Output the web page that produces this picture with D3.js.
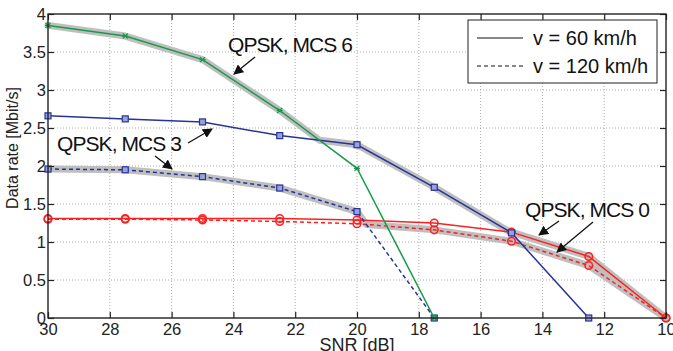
<!DOCTYPE html>
<html>
<head>
<meta charset="utf-8">
<style>
  body { margin: 0; background: #fff; }
  svg { display: block; font-family: "Liberation Sans", Arial, sans-serif; }
</style>
<script src="https://d3js.org/d3.v7.min.js"></script>
</head>
<body>
<svg id="chart" width="673" height="351"></svg>
<script>
// SNR points (dB), plotted from 30 down to 10
var snr = [30, 27.5, 25, 22.5, 20, 17.5, 15, 12.5, 10]

// data rates [Mbit/s]
var mcs6_60  = [3.85, 3.71, 3.40, 2.73, 1.97, 0, 0, 0, 0]
var mcs3_60  = [2.66, 2.62, 2.58, 2.40, 2.28, 1.72, 1.12, 0, 0]
var mcs3_120 = [1.96, 1.95, 1.86, 1.71, 1.40, 0, 0, 0, 0]
var mcs0_60  = [1.31, 1.31, 1.31, 1.31, 1.29, 1.25, 1.13, 0.81, 0]
var mcs0_120 = [1.30, 1.30, 1.29, 1.27, 1.24, 1.16, 1.01, 0.69, 0]

var xTicks = [30, 28, 26, 24, 22, 20, 18, 16, 14, 12, 10]
var yTicks = [0, 0.5, 1, 1.5, 2, 2.5, 3, 3.5, 4]

var padL = 48, padR = 666, padT = 14, padB = 318

var x = d3.scaleLinear().domain([30, 10]).range([padL, padR])
var y = d3.scaleLinear().domain([0, 4]).range([padB, padT])

var svg = d3.select("#chart")

// grid
svg.append("g").selectAll("line").data(xTicks.slice(1, -1)).enter().append("line")
  .attr("x1", d => x(d)).attr("x2", d => x(d)).attr("y1", padT).attr("y2", padB)
  .attr("stroke", "#999").attr("stroke-width", 0.8).attr("stroke-dasharray", "1,2")
svg.append("g").selectAll("line").data(yTicks.slice(1, -1)).enter().append("line")
  .attr("y1", d => y(d)).attr("y2", d => y(d)).attr("x1", padL).attr("x2", padR)
  .attr("stroke", "#999").attr("stroke-width", 0.8).attr("stroke-dasharray", "1,2")

// upper envelope (max over curves), exact for piecewise linear data
function envelope(list) {
  var pts = []
  for (var i = 0; i < snr.length - 1; i++) {
    var ts = [0, 1]
    for (var a = 0; a < list.length; a++) {
      for (var b = a + 1; b < list.length; b++) {
        var da = list[a][i + 1] - list[a][i], db = list[b][i + 1] - list[b][i]
        if (da != db) {
          var t = (list[b][i] - list[a][i]) / (da - db)
          if (t > 0 && t < 1) ts.push(t)
        }
      }
    }
    ts.sort((p, q) => p - q)
    ts.forEach(function(t, k) {
      if (i > 0 && k == 0) return
      var v = d3.max(list, s => s[i] + (s[i + 1] - s[i]) * t)
      pts.push([snr[i] + (snr[i + 1] - snr[i]) * t, v])
    })
  }
  return pts
}

var line = d3.line().x(d => x(d[0])).y(d => y(d[1]))

var env60 = envelope([mcs6_60, mcs3_60, mcs0_60])
var env120 = envelope([mcs3_120, mcs0_120])
;[env60, env120].forEach(function(e) {
  svg.append("path").attr("d", line(e)).attr("fill", "none")
    .attr("stroke", "#bfbfbf").attr("stroke-width", 7)
    .attr("stroke-linejoin", "round").attr("stroke-linecap", "round")
})

var green = "#169b48", blue = "#27339a", red = "#ff1f1f"

// cut a series after it first reaches zero
function pts(vals) {
  var out = []
  for (var i = 0; i < vals.length; i++) {
    out.push([snr[i], vals[i]])
    if (vals[i] == 0) break
  }
  return out
}

var series = [
  {v: mcs0_120, c: red, dash: "4,3", m: "circle"},
  {v: mcs0_60, c: red, dash: null, m: "circle"},
  {v: mcs3_120, c: blue, dash: "4,3", m: "square"},
  {v: mcs3_60, c: blue, dash: null, m: "square"},
  {v: mcs6_60, c: green, dash: null, m: "star"}
]

series.forEach(function(s) {
  var p = pts(s.v)
  svg.append("path").attr("d", line(p)).attr("fill", "none")
    .attr("stroke", s.c).attr("stroke-width", 1.5)
    .attr("stroke-dasharray", s.dash)
  var g = svg.append("g")
  p.forEach(function(d) {
    var cx = x(d[0]), cy = y(d[1])
    if (s.m == "circle") {
      g.append("circle").attr("cx", cx).attr("cy", cy).attr("r", 3.8)
        .attr("fill", "none").attr("stroke", s.c).attr("stroke-width", 1.5)
    } else if (s.m == "square") {
      g.append("rect").attr("x", cx - 3).attr("y", cy - 3).attr("width", 6).attr("height", 6)
        .attr("fill", "#9aa2d8").attr("stroke", s.c).attr("stroke-width", 1.2)
    } else {
      g.append("path").attr("d", "M" + (cx - 2.5) + "," + (cy - 2.5) + "L" + (cx + 2.5) + "," + (cy + 2.5) +
        "M" + (cx - 2.5) + "," + (cy + 2.5) + "L" + (cx + 2.5) + "," + (cy - 2.5) +
        "M" + (cx - 3) + "," + cy + "L" + (cx + 3) + "," + cy)
        .attr("stroke", s.c).attr("stroke-width", 1.2)
    }
  })
})

// frame and axes (ticks pointing inside, on all four sides)
svg.append("rect").attr("x", padL).attr("y", padT).attr("width", padR - padL).attr("height", padB - padT)
  .attr("fill", "none").attr("stroke", "#222").attr("stroke-width", 1.4)

var xb = svg.append("g").attr("transform", "translate(0," + padB + ")")
  .call(d3.axisBottom(x).tickValues(xTicks).tickSizeInner(-6).tickSizeOuter(0).tickPadding(4))
var xt = svg.append("g").attr("transform", "translate(0," + padT + ")")
  .call(d3.axisTop(x).tickValues(xTicks).tickSizeInner(-6).tickSizeOuter(0).tickFormat(""))
var yl = svg.append("g").attr("transform", "translate(" + padL + ",0)")
  .call(d3.axisLeft(y).tickValues(yTicks).tickSizeInner(-6).tickSizeOuter(0).tickPadding(5).tickFormat(d3.format("")))
var yr = svg.append("g").attr("transform", "translate(" + padR + ",0)")
  .call(d3.axisRight(y).tickValues(yTicks).tickSizeInner(-6).tickSizeOuter(0).tickFormat(""))
;[xb, xt, yl, yr].forEach(function(a) {
  a.select(".domain").remove()
  a.selectAll("line").attr("stroke", "#222").attr("stroke-width", 1.2)
  a.selectAll("text").attr("font-size", 16.5).attr("fill", "#222").attr("font-family", "Liberation Sans, Arial, sans-serif")
})
xb.selectAll("text").attr("dy", "0.8em")
yl.selectAll("text").attr("dx", "3")

// axis titles
svg.append("text").attr("x", 357).attr("y", 351).attr("text-anchor", "middle")
  .attr("font-size", 18).attr("fill", "#222").text("SNR [dB]")
svg.append("text").attr("transform", "translate(18,148) rotate(-90)").attr("text-anchor", "middle")
  .attr("font-size", 16).attr("fill", "#222").text("Data rate [Mbit/s]")

// annotations
svg.append("defs").append("marker").attr("id", "arr").attr("viewBox", "0 0 10 10")
  .attr("refX", 9).attr("refY", 5).attr("markerWidth", 10).attr("markerHeight", 10)
  .attr("markerUnits", "userSpaceOnUse").attr("orient", "auto")
  .append("path").attr("d", "M0,0L10,5L0,10z").attr("fill", "#111")

var notes = [
  {t: "QPSK, MCS 6", x: 228, y: 52, arrows: [[255, 57, 234, 74]]},
  {t: "QPSK, MCS 3", x: 57, y: 151, arrows: [[188, 143, 212, 129], [155, 156, 172, 169]]},
  {t: "QPSK, MCS 0", x: 525, y: 217, arrows: [[559, 221, 539, 235], [593, 222, 557, 252]]}
]
notes.forEach(function(n) {
  svg.append("text").attr("x", n.x).attr("y", n.y).attr("font-size", 21).attr("fill", "#111")
    .attr("textLength", 125).text(n.t)
  n.arrows.forEach(function(a) {
    svg.append("line").attr("x1", a[0]).attr("y1", a[1]).attr("x2", a[2]).attr("y2", a[3])
      .attr("stroke", "#111").attr("stroke-width", 1.3).attr("marker-end", "url(#arr)")
  })
})

// legend
var leg = svg.append("g")
leg.append("rect").attr("x", 468).attr("y", 20).attr("width", 189).attr("height", 63)
  .attr("fill", "#fff").attr("stroke", "#222").attr("stroke-width", 1)
var legItems = [["v = 60 km/h", null], ["v = 120 km/h", "4,3"]]
legItems.forEach(function(d, i) {
  var ly = 38 + i * 28
  leg.append("line").attr("x1", 477).attr("x2", 523).attr("y1", ly).attr("y2", ly)
    .attr("stroke", "#111").attr("stroke-width", 1.2).attr("stroke-dasharray", d[1])
  leg.append("text").attr("x", 533).attr("y", ly + 7).attr("font-size", 20).attr("fill", "#111").text(d[0])
})
</script>
</body>
</html>
